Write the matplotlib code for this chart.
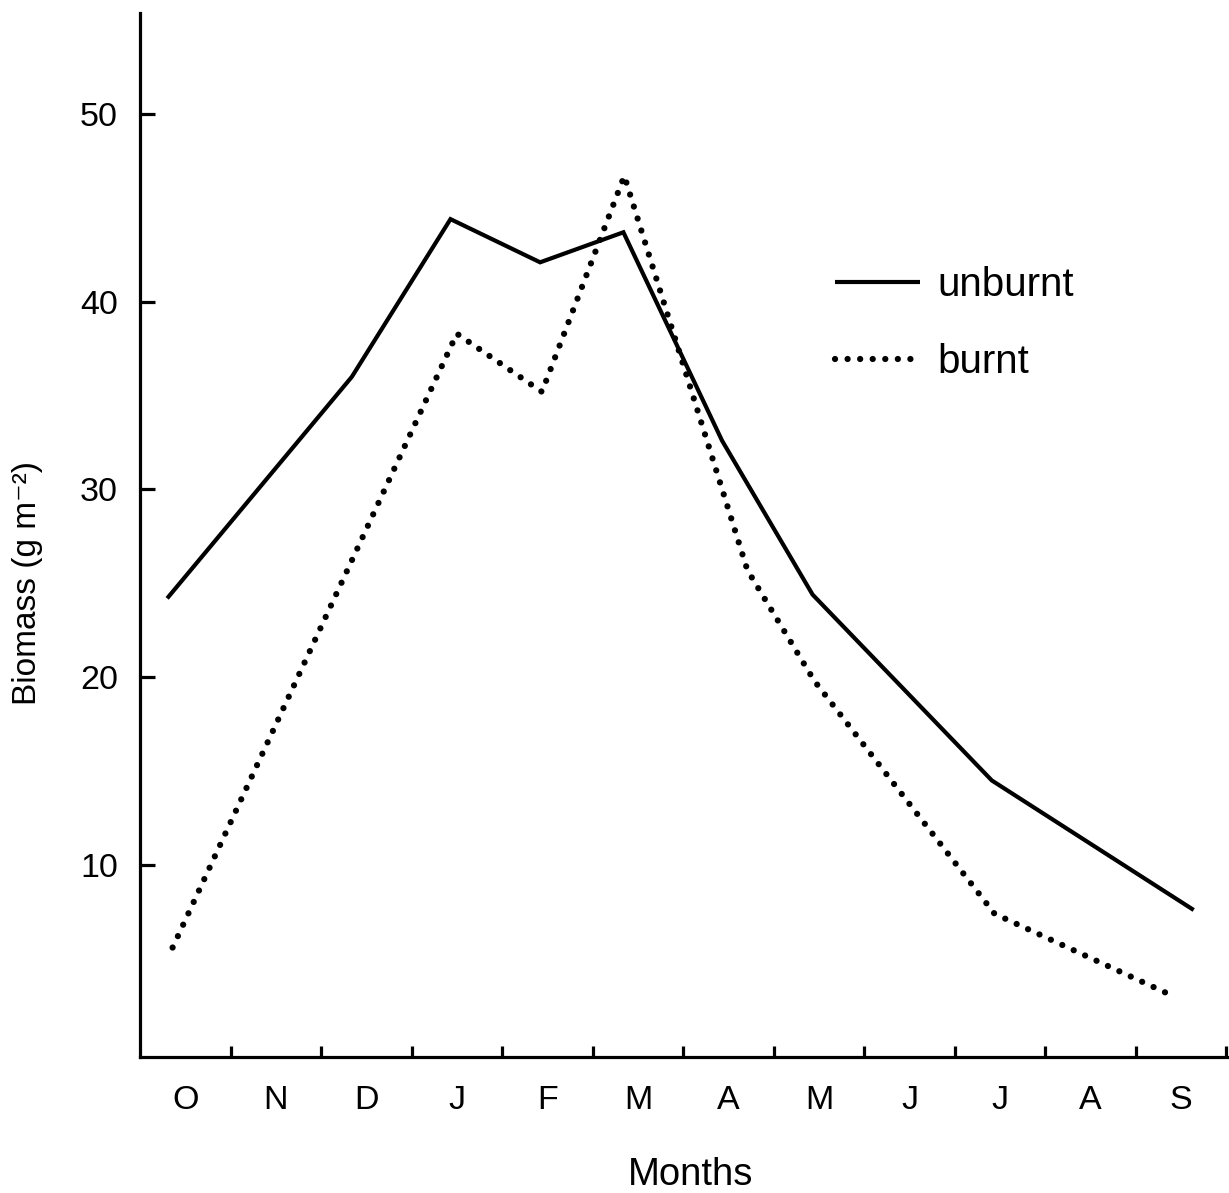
import matplotlib
matplotlib.use("Agg")
import matplotlib.pyplot as plt

plt.rcParams['font.family'] = ['Liberation Sans', 'DejaVu Sans']

# month positions (month index, 0 = start of October)
months = ['O', 'N', 'D', 'J', 'F', 'M', 'A', 'M', 'J', 'J', 'A', 'S']

unburnt_x = [0.30, 2.34, 3.43, 4.42, 5.34, 6.43, 7.43, 9.41, 11.64]
unburnt_y = [24.2, 36.0, 44.4, 42.1, 43.7, 32.6, 24.4, 14.5, 7.6]

burnt_x = [0.36, 3.50, 4.44, 5.35, 6.71, 7.45, 8.46, 9.44, 11.42]
burnt_y = [5.6, 38.3, 35.2, 46.7, 25.7, 19.8, 13.5, 7.4, 3.0]

yticks = [10, 20, 30, 40, 50]

W, H = 1229, 1193
fig = plt.figure(figsize=(W / 100, H / 100), dpi=100)
ax = fig.add_axes([140 / W, (H - 1057) / H, (W - 140) / W, (1057 - 13) / H])

ax.plot(unburnt_x, unburnt_y, color='black', lw=3.0, solid_joinstyle='miter',
        solid_capstyle='butt', label='unburnt')
ax.plot(burnt_x, burnt_y, color='black', lw=4.5, linestyle=(0, (0.01, 2.0)),
        dash_capstyle='round', label='burnt')

ax.set_xlim(0, 12.03)
ax.set_ylim(-0.23, 55.38)

for s in ['top', 'right']:
    ax.spines[s].set_visible(False)
for s in ['left', 'bottom']:
    ax.spines[s].set_linewidth(2.3)

ax.set_yticks(yticks)
ax.set_yticklabels([str(v) for v in yticks])
ax.tick_params(axis='y', direction='in', length=11, width=2.3, pad=16,
               labelsize=24.5)

ax.set_xticks(range(1, 13))
ax.set_xticklabels([])
ax.set_xticks([k + 0.5 for k in range(12)], minor=True)
ax.set_xticklabels(months, minor=True)
ax.tick_params(axis='x', which='major', direction='in', length=8, width=2.3)
ax.tick_params(axis='x', which='minor', length=0, pad=20, labelsize=24.5)

fig.text(691 / W, 1 - 1175 / H, 'Months', ha='center', va='center', fontsize=27.5)
fig.text(28 / W, 1 - 583 / H, 'Biomass (g m\u207b\u00b2)', ha='center', va='center',
         rotation=90, fontsize=24)

leg = ax.legend(loc='upper left', bbox_to_anchor=(835 / W, 1 - 266 / H),
                bbox_transform=fig.transFigure, frameon=False, fontsize=29,
                handlelength=2.1, handletextpad=0.45, labelspacing=0.97,
                borderpad=0, borderaxespad=0)

fig.savefig('out.png', dpi=100)
